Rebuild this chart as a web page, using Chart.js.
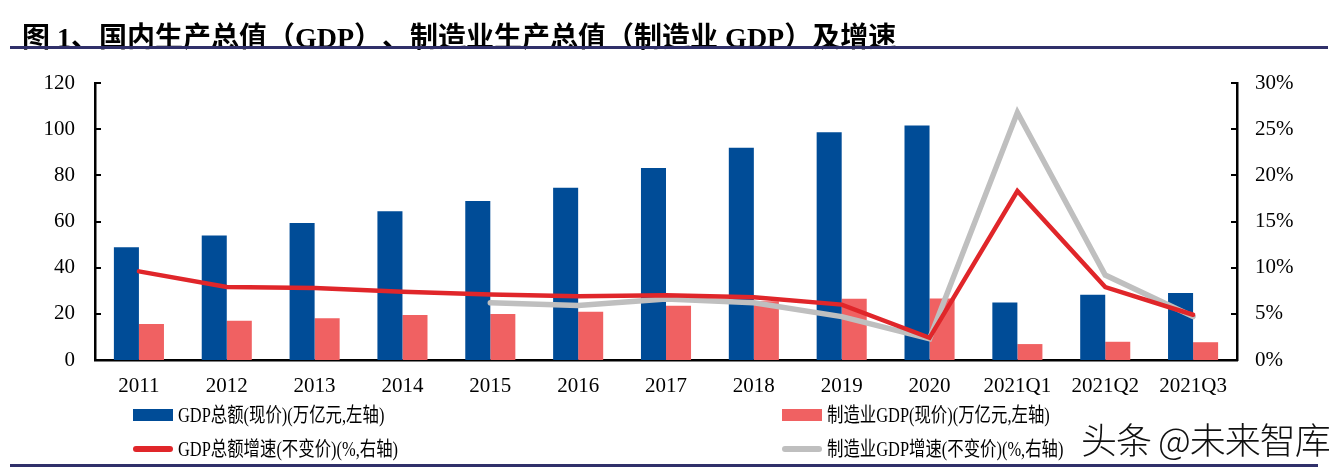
<!DOCTYPE html>
<html>
<head>
<meta charset="utf-8">
<script src="https://cdn.jsdelivr.net/npm/chart.js@4.4.1/dist/chart.umd.min.js"></script>
<style>
  html, body { margin:0; padding:0; background:#fff; }
  body { width:1340px; height:475px; position:relative; overflow:hidden;
         font-family:"Liberation Serif","Noto Sans CJK SC",serif; }
  #wrap { position:absolute; left:0; top:0; width:1340px; height:475px; }
  #title { position:absolute; left:22px; top:15px; font-size:28px; font-weight:bold; color:#000;
           white-space:nowrap; letter-spacing:0px; text-spacing-trim:space-all;
           font-family:"Liberation Serif","Noto Sans CJK SC",serif; }
  .rule { position:absolute; background:#30306a; }
  .leg { position:absolute; font-size:20px; color:#000; white-space:nowrap; line-height:24px;
         transform-origin:left center; transform:scaleX(0.82); }
  .sw { position:absolute; }
  #wm { position:absolute; left:1081px; top:412px; font-size:36px; color:#111; white-space:nowrap;
        font-family:"Noto Sans CJK SC",sans-serif; font-weight:300; letter-spacing:-1px;
        text-shadow: 0 0 2px #fff, 0 0 3px #fff, 1px 1px 1px #fff, -1px -1px 1px #fff; }
</style>
</head>
<body>
<div id="wrap"><canvas id="c" width="1340" height="475"></canvas></div>
<div id="title"></div>
<div class="rule" style="left:10px; top:46px; width:1318px; height:3px;"></div>
<div id="legend"></div>
<div class="rule" style="left:10px; top:464px; width:1308px; height:3px;"></div>
<div id="wm">头条 @未来智库</div>
<script>
const titleText = "图 1、国内生产总值（GDP）、制造业生产总值（制造业 GDP）及增速";
const categories = ["2011","2012","2013","2014","2015","2016","2017","2018","2019","2020","2021Q1","2021Q2","2021Q3"];
const gdpTotal = [48.8, 53.9, 59.3, 64.4, 68.9, 74.6, 83.2, 91.9, 98.7, 101.6, 24.9, 28.3, 29.0];
const mfgGdp   = [15.6, 17.0, 18.1, 19.5, 19.9, 20.9, 23.5, 25.5, 26.5, 26.6, 6.9, 7.9, 7.7];
const gdpGrowth = [9.6, 7.9, 7.8, 7.4, 7.1, 6.9, 7.0, 6.8, 6.0, 2.4, 18.3, 7.9, 4.9];
const mfgGrowth = [null, null, null, null, 6.2, 5.9, 6.6, 6.2, 4.7, 2.3, 26.8, 9.2, 4.7];
const seriesLabels = ["GDP总额(现价)(万亿元,左轴)", "制造业GDP(现价)(万亿元,左轴)", "GDP总额增速(不变价)(%,右轴)", "制造业GDP增速(不变价)(%,右轴)"];
const leftTicks = [0, 20, 40, 60, 80, 100, 120];
const rightTicks = [0, 5, 10, 15, 20, 25, 30];

const C_BLUE = "#004c97", C_PINK = "#f06162", C_RED = "#e0262a", C_GRAY = "#bfbfbf";

document.getElementById("title").textContent = titleText;

const legendDefs = [
  {label: seriesLabels[0], type:"box",  color:C_BLUE, x:133, y:415},
  {label: seriesLabels[1], type:"box",  color:C_PINK, x:782, y:415},
  {label: seriesLabels[2], type:"line", color:C_RED,  x:133, y:449},
  {label: seriesLabels[3], type:"line", color:C_GRAY, x:782, y:449}
];
const legEl = document.getElementById("legend");
legendDefs.forEach(d => {
  const sw = document.createElement("div");
  sw.className = "sw";
  if (d.type === "box") {
    sw.style.cssText = `left:${d.x}px; top:${d.y-6}px; width:40px; height:12px; background:${d.color};`;
  } else {
    sw.style.cssText = `left:${d.x}px; top:${d.y-3}px; width:40px; height:6px; border-radius:3px; background:${d.color};`;
  }
  legEl.appendChild(sw);
  const t = document.createElement("div");
  t.className = "leg";
  t.textContent = d.label;
  t.style.left = (d.x + 45) + "px";
  t.style.top = (d.y - 12) + "px";
  legEl.appendChild(t);
});

const inwardTicks = {
  id: "inwardTicks",
  afterDraw(chart) {
    const ctx = chart.ctx;
    ctx.save();
    ctx.strokeStyle = "#000";
    ctx.lineWidth = 2;
    const y = chart.scales.y, y1 = chart.scales.y1;
    leftTicks.forEach(v => {
      const p = Math.round(y.getPixelForValue(v));
      ctx.beginPath(); ctx.moveTo(y.right, p); ctx.lineTo(y.right + 6, p); ctx.stroke();
    });
    rightTicks.forEach(v => {
      const p = Math.round(y1.getPixelForValue(v));
      ctx.beginPath(); ctx.moveTo(y1.left, p); ctx.lineTo(y1.left - 6, p); ctx.stroke();
    });
    ctx.restore();
  }
};

const tickFont = { family: "'Liberation Serif', 'Noto Sans CJK SC', serif", size: 21 };

new Chart(document.getElementById("c"), {
  type: "bar",
  data: {
    labels: categories,
    datasets: [
      { type:"line", label: seriesLabels[2], data: gdpGrowth, yAxisID:"y1", borderColor:C_RED,
        borderWidth:4.5, pointRadius:0, tension:0, borderCapStyle:"round", borderJoinStyle:"miter", order:0 },
      { type:"line", label: seriesLabels[3], data: mfgGrowth, yAxisID:"y1", borderColor:C_GRAY,
        borderWidth:5.5, pointRadius:0, tension:0, borderCapStyle:"round", borderJoinStyle:"miter", order:1 },
      { label: seriesLabels[0], data: gdpTotal, backgroundColor:C_BLUE, yAxisID:"y",
        categoryPercentage:0.57, barPercentage:1.0, order:2 },
      { label: seriesLabels[1], data: mfgGdp, backgroundColor:C_PINK, yAxisID:"y",
        categoryPercentage:0.57, barPercentage:1.0, order:3 }
    ]
  },
  options: {
    responsive: false,
    animation: false,
    layout: { padding: { top: 83, bottom: 75, left: 0, right: 0 } },
    plugins: { legend: { display:false }, tooltip: { enabled:false }, title: { display:false } },
    scales: {
      x: {
        grid: { display:false, drawTicks:false },
        border: { display:true, color:"#000", width:2.5 },
        ticks: { color:"#000", font: tickFont, padding: 14, maxRotation:0, autoSkip:false },
        afterFit(s) { s.height = 40; }
      },
      y: {
        position:"left", min:0, max:120,
        grid: { display:false, drawTicks:false },
        border: { display:true, color:"#000", width:2.5 },
        ticks: { color:"#000", font: tickFont, padding: 20, stepSize:20 },
        afterBuildTicks(s) { s.ticks = leftTicks.map(v => ({value:v})); },
        afterFit(s) { s.width = 95; }
      },
      y1: {
        position:"right", min:0, max:30,
        grid: { display:false, drawTicks:false },
        border: { display:true, color:"#000", width:2.5 },
        ticks: { color:"#000", font: tickFont, padding: 18, callback: v => v + "%" },
        afterBuildTicks(s) { s.ticks = rightTicks.map(v => ({value:v})); },
        afterFit(s) { s.width = 103; }
      }
    }
  },
  plugins: [inwardTicks]
});
</script>
</body>
</html>
